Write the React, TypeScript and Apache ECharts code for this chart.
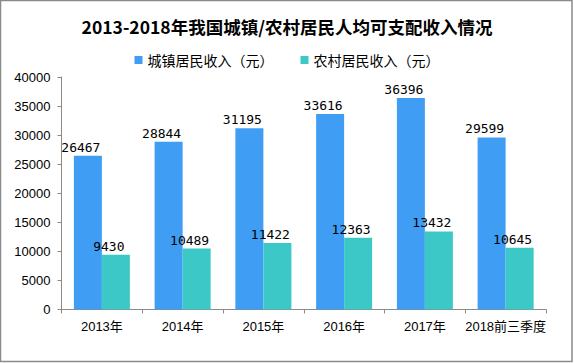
import React, { useEffect, useRef } from "react";
import * as echarts from "echarts";

const categories = ["2013年", "2014年", "2015年", "2016年", "2017年", "2018前三季度"];
const urbanIncome = [26467, 28844, 31195, 33616, 36396, 29599];
const ruralIncome = [9430, 10489, 11422, 12363, 13432, 10645];
const seriesNames = ["城镇居民收入（元）", "农村居民收入（元）"];
const titleText = "2013-2018年我国城镇/农村居民人均可支配收入情况";

export default function App() {
  const ref = useRef<HTMLDivElement>(null);
  useEffect(() => {
    if (!ref.current) return;
    const chart = echarts.init(ref.current, null, { renderer: "svg" });
    const labelStyle = {
      show: true,
      position: "top" as const,
      distance: 2,
      offset: [-7, 0],
      color: "#000",
      fontSize: 13,
      fontFamily: "DejaVu Sans Mono",
    };
    chart.setOption({
      animation: false,
      backgroundColor: "#fff",
      title: {
        text: titleText,
        left: "center",
        top: 13,
        textStyle: {
          fontSize: 17.5,
          fontWeight: "bold",
          color: "#000",
          fontFamily: "Noto Sans CJK SC",
        },
      },
      legend: {
        data: seriesNames,
        top: 48,
        left: "center",
        itemWidth: 8,
        itemHeight: 8,
        itemGap: 27,
        icon: "rect",
        textStyle: { fontSize: 14, color: "#000", fontFamily: "Noto Sans CJK SC" },
      },
      graphic: [
        {
          type: "rect",
          shape: { x: 0.5, y: 0.5, width: 571.5, height: 361 },
          style: { fill: "none", stroke: "#8a8a8a", lineWidth: 1.5 },
          silent: true,
        },
      ],
      grid: { left: 61.5, right: 28, top: 77, bottom: 53.5, containLabel: false },
      xAxis: {
        type: "category",
        data: categories,
        axisLine: { lineStyle: { color: "#8a8a8a", width: 1 } },
        axisTick: { show: true, length: 4, lineStyle: { color: "#8a8a8a" } },
        axisLabel: {
          color: "#000",
          fontSize: 13,
          margin: 10,
          interval: 0,
          fontFamily: "Liberation Sans, Noto Sans CJK SC",
        },
      },
      yAxis: {
        type: "value",
        min: 0,
        max: 40000,
        interval: 5000,
        axisLine: { show: true, lineStyle: { color: "#8a8a8a", width: 1 } },
        axisTick: { show: true, length: 4, lineStyle: { color: "#8a8a8a" } },
        splitLine: { show: false },
        axisLabel: {
          color: "#000",
          fontSize: 13,
          margin: 11,
          fontFamily: "Liberation Sans",
          formatter: (v: number) => String(v),
        },
      },
      series: [
        {
          name: seriesNames[0],
          type: "bar",
          data: urbanIncome,
          barWidth: 28,
          barGap: "0%",
          itemStyle: { color: "#3f9df4" },
          label: labelStyle,
        },
        {
          name: seriesNames[1],
          type: "bar",
          data: ruralIncome,
          barWidth: 28,
          barGap: "0%",
          itemStyle: { color: "#3cc8c6" },
          label: labelStyle,
        },
      ],
    });
    return () => chart.dispose();
  }, []);
  return (
    <div
      ref={ref}
      style={{ position: "absolute", left: 0, top: 0, width: 574, height: 363 }}
    />
  );
}
